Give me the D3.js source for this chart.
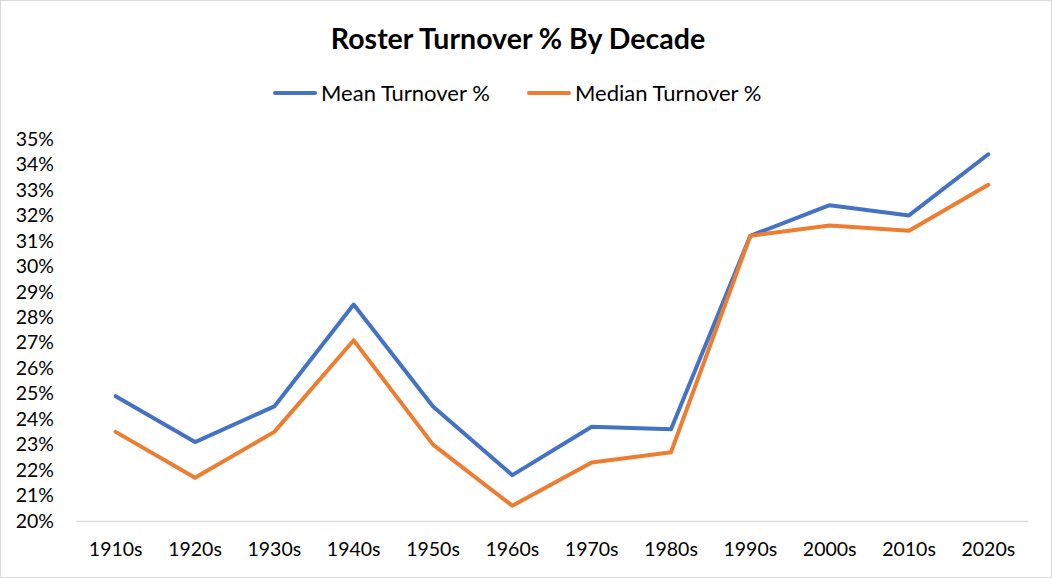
<!DOCTYPE html>
<html><head><meta charset="utf-8">
<script src="https://cdn.jsdelivr.net/npm/d3@7"></script>
<style>
html,body{margin:0;padding:0;background:#fff;}
text{font-family:Lato,"Noto Sans",sans-serif;}
</style></head>
<body>
<svg id="chart" width="1052" height="578"></svg>
<script>
const categories = ["1910s","1920s","1930s","1940s","1950s","1960s","1970s","1980s","1990s","2000s","2010s","2020s"];
const meanTurnover = [24.9, 23.1, 24.5, 28.5, 24.5, 21.8, 23.7, 23.6, 31.2, 32.4, 32.0, 34.4];
const medianTurnover = [23.5, 21.7, 23.5, 27.1, 23.0, 20.6, 22.3, 22.7, 31.2, 31.6, 31.4, 33.2];
const yTicks = [20,21,22,23,24,25,26,27,28,29,30,31,32,33,34,35];
const seriesNames = ["Mean Turnover %","Median Turnover %"];
const seriesColors = ["#4472C4","#ED7D31"];

const svg = d3.select("#chart");
svg.append("rect").attr("x",0.5).attr("y",0.5).attr("width",1051).attr("height",577)
  .attr("fill","#fff").attr("stroke","#d9d9d9");

const x = d3.scaleBand().domain(categories).range([76,1028]);
const y = d3.scaleLinear().domain([20,35]).range([521,139]);

// title
svg.append("text").attr("x",518).attr("y",49).attr("text-anchor","middle")
  .attr("font-size",28.5).attr("font-weight","bold").attr("fill","#000")
  .text("Roster Turnover % By Decade");

// legend
const legendX = [275, 529];
seriesNames.forEach((n,i)=>{
  svg.append("line").attr("x1",legendX[i]).attr("x2",legendX[i]+40).attr("y1",93).attr("y2",93)
    .attr("stroke",seriesColors[i]).attr("stroke-width",4).attr("stroke-linecap","round");
  svg.append("text").attr("x",legendX[i]+46).attr("y",100.5).attr("font-size",22).attr("fill","#000").text(n);
});

// y axis labels
const yAxis = d3.axisLeft(y).tickValues(yTicks).tickSize(0).tickPadding(0).tickFormat(d=>d+"%");
const gy = svg.append("g").attr("transform","translate(54,0)").call(yAxis);
gy.select(".domain").remove();
gy.selectAll("text").attr("font-size",19.5).attr("fill","#000").attr("font-family","Lato");

// x axis
const xAxis = d3.axisBottom(x).tickSize(0).tickPadding(21);
const gx = svg.append("g").attr("transform","translate(0,521)").call(xAxis);
gx.select(".domain").attr("stroke","#d9d9d9").attr("stroke-width",1.5);
gx.selectAll("text").attr("font-size",19.5).attr("fill","#000").attr("font-family","Lato");

const line = d3.line().x((d,i)=>x(categories[i])+x.bandwidth()/2).y(d=>y(d));
[meanTurnover, medianTurnover].forEach((s,i)=>{
  svg.append("path").datum(s).attr("d",line).attr("fill","none")
    .attr("stroke",seriesColors[i]).attr("stroke-width",4)
    .attr("stroke-linejoin","round").attr("stroke-linecap","round");
});
</script>
</body></html>
